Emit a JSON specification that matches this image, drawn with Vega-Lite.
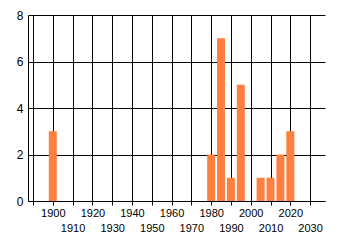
{
  "$schema": "https://vega.github.io/schema/vega-lite/v6.json",
  "width": 297,
  "height": 186,
  "autosize": "none",
  "padding": {"left": 28, "top": 15, "right": 15, "bottom": 44},
  "background": "white",
  "config": {"view": {"stroke": null}},
  "data": {"values": [
    {"year": 1900, "count": 3},
    {"year": 1980, "count": 2},
    {"year": 1985, "count": 7},
    {"year": 1990, "count": 1},
    {"year": 1995, "count": 5},
    {"year": 2005, "count": 1},
    {"year": 2010, "count": 1},
    {"year": 2015, "count": 2},
    {"year": 2020, "count": 3}
  ]},
  "mark": {"type": "bar", "size": 8, "color": "#ff7f40"},
  "encoding": {
    "x": {
      "field": "year", "type": "quantitative",
      "scale": {"domain": [1890, 2035], "nice": false, "zero": false},
      "axis": {
        "title": null,
        "values": [1890, 1900, 1910, 1920, 1930, 1940, 1950, 1960, 1970, 1980, 1990, 2000, 2010, 2020, 2030],
        "labelExpr": "datum.value == 1890 ? '' : datum.label",
        "format": "d",
        "labelOverlap": false,
        "labelFlush": false,
        "labelBound": false,
        "labelFont": "Liberation Sans",
        "labelFontSize": 11,
        "labelColor": "#000000",
        "labelPadding": {"condition": {"test": "(datum.value / 10) % 2 == 1", "value": 17}, "value": 2},
        "grid": true,
        "gridColor": "#000000",
        "gridOpacity": 1,
        "gridWidth": 1,
        "domainColor": "#000000",
        "domainWidth": 1,
        "tickColor": "#000000",
        "tickSize": 4,
        "tickWidth": 1
      }
    },
    "y": {
      "field": "count", "type": "quantitative",
      "scale": {"domain": [0, 8], "nice": false},
      "axis": {
        "title": null,
        "values": [0, 2, 4, 6, 8],
        "labelFont": "Liberation Sans",
        "labelFontSize": 12,
        "labelColor": "#000000",
        "labelPadding": 5,
        "ticks": false,
        "grid": true,
        "gridColor": "#000000",
        "gridOpacity": 1,
        "gridWidth": 1,
        "domainColor": "#000000",
        "domainWidth": 1
      }
    }
  }
}
